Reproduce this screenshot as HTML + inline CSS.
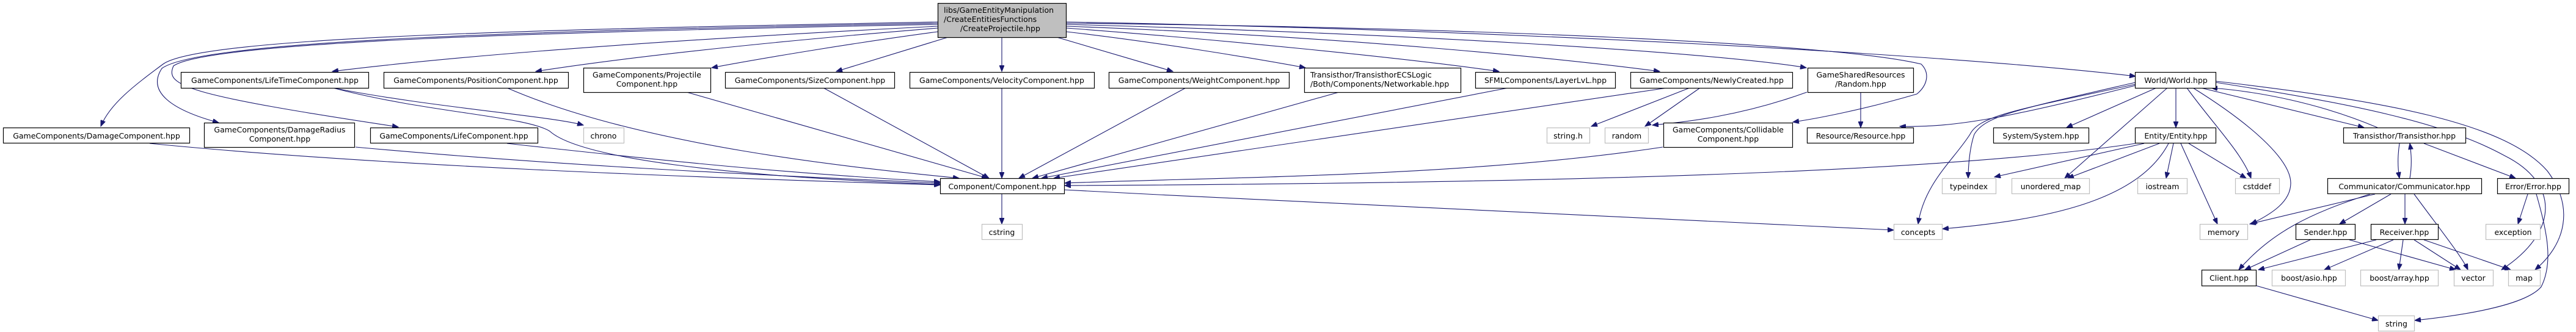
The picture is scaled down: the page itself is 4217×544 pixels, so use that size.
<!DOCTYPE html>
<html><head><meta charset="utf-8"><style>
html,body{margin:0;padding:0;background:#fff;}
svg{display:block;}
text{font-family:"DejaVu Sans","Liberation Sans",sans-serif;font-size:12.5px;fill:#000;}
.b{fill:#fff;stroke:#000;stroke-width:1.2;}
.g{fill:#fff;stroke:#bfbfbf;stroke-width:1.2;}
.e{fill:none;stroke:#191970;stroke-width:1.1;}
</style></head><body>
<svg width="4217" height="544" viewBox="0 0 4217 544" xmlns="http://www.w3.org/2000/svg">
<defs><marker id="a" markerUnits="userSpaceOnUse" markerWidth="11" markerHeight="8" refX="10" refY="4" orient="auto"><path d="M0,0 L10,4 L0,8 z" fill="#191970" stroke="#191970"/></marker></defs>
<g marker-end="url(#a)">
<path class="e" d="M1535,36 C900,48 330,60 267,105 C220,140 180,170 165,207"/>
<path class="e" d="M1535,38 C900,50 330,65 265,112 C240,150 280,180 358,201"/>
<path class="e" d="M1535,40 C900,52 340,68 284,108 C270,140 300,155 652,208"/>
<path class="e" d="M1535,43 C1200,60 800,85 544,117"/>
<path class="e" d="M1535,46 C1300,65 1050,90 877,117"/>
<path class="e" d="M1535,52 C1400,70 1250,95 1165,111"/>
<path class="e" d="M1552,61 L1369,117"/>
<path class="e" d="M1640,61 L1640,117"/>
<path class="e" d="M1730,61 L1920,117"/>
<path class="e" d="M1746,52 C1900,70 2050,95 2137,111"/>
<path class="e" d="M1746,46 C2000,65 2300,95 2454,117"/>
<path class="e" d="M1746,43 C2200,60 2550,95 2717,117"/>
<path class="e" d="M1746,40 C2300,55 2800,85 2957,111"/>
<path class="e" d="M1746,38 C2400,45 3000,70 3145,105 C3160,120 3155,140 3138,154 C3050,180 2970,195 2935,200"/>
<path class="e" d="M1746,36 C2500,50 3200,90 3496,125"/>
<path class="e" d="M245,235 C600,270 1100,290 1539,303"/>
<path class="e" d="M582,241 C900,270 1200,285 1539,300"/>
<path class="e" d="M830,235 C1100,265 1300,285 1539,298"/>
<path class="e" d="M545,144 C700,185 860,190 900,215 C950,260 1200,290 1539,302"/>
<path class="e" d="M545,144 C700,175 900,190 955,205"/>
<path class="e" d="M830,144 C1050,240 1400,275 1570,292"/>
<path class="e" d="M1124,151 L1617,292"/>
<path class="e" d="M1348,144 L1619,292"/>
<path class="e" d="M1640,144 L1640,292"/>
<path class="e" d="M1941,144 L1668,292"/>
<path class="e" d="M2192,151 L1690,292"/>
<path class="e" d="M2469,144 L1705,292"/>
<path class="e" d="M2729,144 L1725,292"/>
<path class="e" d="M2722,241 C2400,290 2000,290 1743,300"/>
<path class="e" d="M3496,235 C3200,280 2600,300 1743,304"/>
<path class="e" d="M1742,311 C2300,340 2900,370 3100,377"/>
<path class="e" d="M1640,318 L1640,367"/>
<path class="e" d="M2766,144 L2605,207"/>
<path class="e" d="M2783,144 L2693,207"/>
<path class="e" d="M2958,151 C2850,190 2760,200 2705,205"/>
<path class="e" d="M3046,151 L3046,209"/>
<path class="e" d="M3496,140 C3300,190 3200,210 3110,207"/>
<path class="e" d="M3496,135 C3300,180 3250,190 3232,220 C3225,240 3222,270 3222,292"/>
<path class="e" d="M3496,138 C3300,180 3240,190 3225,220 C3200,260 3150,300 3140,367"/>
<path class="e" d="M3530,144 L3383,209"/>
<path class="e" d="M3562,144 L3562,209"/>
<path class="e" d="M3548,144 L3380,292"/>
<path class="e" d="M3580,144 C3620,200 3670,250 3685,292"/>
<path class="e" d="M3590,144 C3680,200 3750,260 3750,300 C3750,330 3720,350 3685,367"/>
<path class="e" d="M3603,144 L3870,209"/>
<path class="e" d="M3892,209 C3800,170 3700,150 3620,144"/>
<path class="e" d="M3627,135 C3850,170 4000,200 4100,255 C4190,300 4190,380 4095,442"/>
<path class="e" d="M3627,133 C3900,165 4100,200 4170,280 C4215,340 4200,400 4150,442"/>
<path class="e" d="M3510,235 L3265,290"/>
<path class="e" d="M3535,235 L3385,292"/>
<path class="e" d="M3558,235 L3546,292"/>
<path class="e" d="M3583,235 L3677,292"/>
<path class="e" d="M3570,235 L3630,367"/>
<path class="e" d="M3550,235 C3500,330 3350,360 3180,375"/>
<path class="e" d="M3928,235 C3925,255 3925,275 3928,292"/>
<path class="e" d="M3945,292 C3948,275 3948,255 3945,235"/>
<path class="e" d="M3968,235 L4118,292"/>
<path class="e" d="M3888,318 L3683,367"/>
<path class="e" d="M3880,318 C3780,350 3720,380 3665,442"/>
<path class="e" d="M3914,318 L3830,367"/>
<path class="e" d="M3937,318 L3937,367"/>
<path class="e" d="M3952,318 C3990,370 4030,420 4040,442"/>
<path class="e" d="M3782,393 L3675,442"/>
<path class="e" d="M3846,393 L4020,442"/>
<path class="e" d="M3890,393 L3697,442"/>
<path class="e" d="M3918,393 L3805,442"/>
<path class="e" d="M3934,393 L3927,442"/>
<path class="e" d="M3952,393 L4028,442"/>
<path class="e" d="M3968,393 L4110,442"/>
<path class="e" d="M4138,318 L4122,367"/>
<path class="e" d="M4152,318 C4170,380 4180,430 4160,470 C4130,505 4000,520 3953,525"/>
<path class="e" d="M3693,468 L3893,525"/>
</g>
<rect x="1535.5" y="5.5" width="210" height="56" fill="#bfbfbf" stroke="#000" stroke-width="1.2"/>
<text x="1545" y="21">libs/GameEntityManipulation</text>
<text x="1545" y="36">/CreateEntitiesFunctions</text>
<text x="1572" y="51">/CreateProjectile.hpp</text>

<rect class="b" x="296.5" y="118.5" width="307" height="26"/><text x="450" y="136" text-anchor="middle">GameComponents/LifeTimeComponent.hpp</text>
<rect class="b" x="628.5" y="118.5" width="302" height="26"/><text x="779" y="136" text-anchor="middle">GameComponents/PositionComponent.hpp</text>
<rect class="b" x="955.5" y="111.5" width="208" height="40"/><text x="1059" y="127" text-anchor="middle">GameComponents/Projectile</text><text x="1059" y="142" text-anchor="middle">Component.hpp</text>
<rect class="b" x="1187.5" y="118.5" width="277" height="26"/><text x="1326" y="136" text-anchor="middle">GameComponents/SizeComponent.hpp</text>
<rect class="b" x="1489.5" y="118.5" width="302" height="26"/><text x="1640" y="136" text-anchor="middle">GameComponents/VelocityComponent.hpp</text>
<rect class="b" x="1815.5" y="118.5" width="295" height="26"/><text x="1963" y="136" text-anchor="middle">GameComponents/WeightComponent.hpp</text>
<rect class="b" x="2135.5" y="111.5" width="256" height="40"/><text x="2145" y="127">Transisthor/TransisthorECSLogic</text><text x="2145" y="142">/Both/Components/Networkable.hpp</text>
<rect class="b" x="2415.5" y="118.5" width="229" height="26"/><text x="2530" y="136" text-anchor="middle">SFMLComponents/LayerLvL.hpp</text>
<rect class="b" x="2669.5" y="118.5" width="265" height="26"/><text x="2802" y="136" text-anchor="middle">GameComponents/NewlyCreated.hpp</text>
<rect class="b" x="2959.5" y="111.5" width="173" height="40"/><text x="3046" y="127" text-anchor="middle">GameSharedResources</text><text x="3046" y="142" text-anchor="middle">/Random.hpp</text>
<rect class="b" x="3495.5" y="118.5" width="132" height="26"/><text x="3562" y="136" text-anchor="middle">World/World.hpp</text>

<rect class="b" x="5.5" y="209.5" width="305" height="25"/><text x="158" y="227" text-anchor="middle">GameComponents/DamageComponent.hpp</text>
<rect class="b" x="334.5" y="201.5" width="246" height="40"/><text x="458" y="217" text-anchor="middle">GameComponents/DamageRadius</text><text x="458" y="232" text-anchor="middle">Component.hpp</text>
<rect class="b" x="606.5" y="209.5" width="274" height="25"/><text x="743" y="227" text-anchor="middle">GameComponents/LifeComponent.hpp</text>
<rect class="g" x="955.5" y="209.5" width="66" height="25"/><text x="988" y="227" text-anchor="middle">chrono</text>
<rect class="g" x="2532.5" y="209.5" width="70" height="25"/><text x="2567" y="227" text-anchor="middle">string.h</text>
<rect class="g" x="2627.5" y="209.5" width="71" height="25"/><text x="2663" y="227" text-anchor="middle">random</text>
<rect class="b" x="2723.5" y="201.5" width="211" height="40"/><text x="2829" y="217" text-anchor="middle">GameComponents/Collidable</text><text x="2829" y="232" text-anchor="middle">Component.hpp</text>
<rect class="b" x="2958.5" y="209.5" width="174" height="25"/><text x="3046" y="227" text-anchor="middle">Resource/Resource.hpp</text>
<rect class="b" x="3263.5" y="209.5" width="156" height="25"/><text x="3341" y="227" text-anchor="middle">System/System.hpp</text>
<rect class="b" x="3495.5" y="209.5" width="132" height="25"/><text x="3562" y="227" text-anchor="middle">Entity/Entity.hpp</text>
<rect class="b" x="3836.5" y="209.5" width="200" height="25"/><text x="3936" y="227" text-anchor="middle">Transisthor/Transisthor.hpp</text>

<rect class="b" x="1539.5" y="292.5" width="203" height="25"/><text x="1641" y="310" text-anchor="middle">Component/Component.hpp</text>
<rect class="g" x="3179.5" y="292.5" width="88" height="25"/><text x="3223" y="310" text-anchor="middle">typeindex</text>
<rect class="g" x="3293.5" y="292.5" width="127" height="25"/><text x="3357" y="310" text-anchor="middle">unordered_map</text>
<rect class="g" x="3499.5" y="292.5" width="81" height="25"/><text x="3540" y="310" text-anchor="middle">iostream</text>
<rect class="g" x="3659.5" y="292.5" width="72" height="25"/><text x="3695" y="310" text-anchor="middle">cstddef</text>
<rect class="b" x="3810.5" y="292.5" width="252" height="25"/><text x="3936" y="310" text-anchor="middle">Communicator/Communicator.hpp</text>
<rect class="b" x="4088.5" y="292.5" width="117" height="25"/><text x="4147" y="310" text-anchor="middle">Error/Error.hpp</text>

<rect class="g" x="1607.5" y="367.5" width="66" height="25"/><text x="1640" y="385" text-anchor="middle">cstring</text>
<rect class="g" x="3100.5" y="367.5" width="79" height="25"/><text x="3140" y="385" text-anchor="middle">concepts</text>
<rect class="g" x="3601.5" y="367.5" width="78" height="25"/><text x="3640" y="385" text-anchor="middle">memory</text>
<rect class="b" x="3758.5" y="367.5" width="97" height="25"/><text x="3807" y="385" text-anchor="middle">Sender.hpp</text>
<rect class="b" x="3881.5" y="367.5" width="110" height="25"/><text x="3936" y="385" text-anchor="middle">Receiver.hpp</text>
<rect class="g" x="4069.5" y="367.5" width="89" height="25"/><text x="4114" y="385" text-anchor="middle">exception</text>

<rect class="b" x="3604.5" y="442.5" width="89" height="26"/><text x="3649" y="460" text-anchor="middle">Client.hpp</text>
<rect class="g" x="3719.5" y="442.5" width="120" height="26"/><text x="3780" y="460" text-anchor="middle">boost/asio.hpp</text>
<rect class="g" x="3864.5" y="442.5" width="127" height="26"/><text x="3928" y="460" text-anchor="middle">boost/array.hpp</text>
<rect class="g" x="4017.5" y="442.5" width="64" height="26"/><text x="4049" y="460" text-anchor="middle">vector</text>
<rect class="g" x="4106.5" y="442.5" width="52" height="26"/><text x="4132" y="460" text-anchor="middle">map</text>
<rect class="g" x="3893.5" y="517.5" width="59" height="25"/><text x="3923" y="535" text-anchor="middle">string</text>
</svg>
</body></html>
